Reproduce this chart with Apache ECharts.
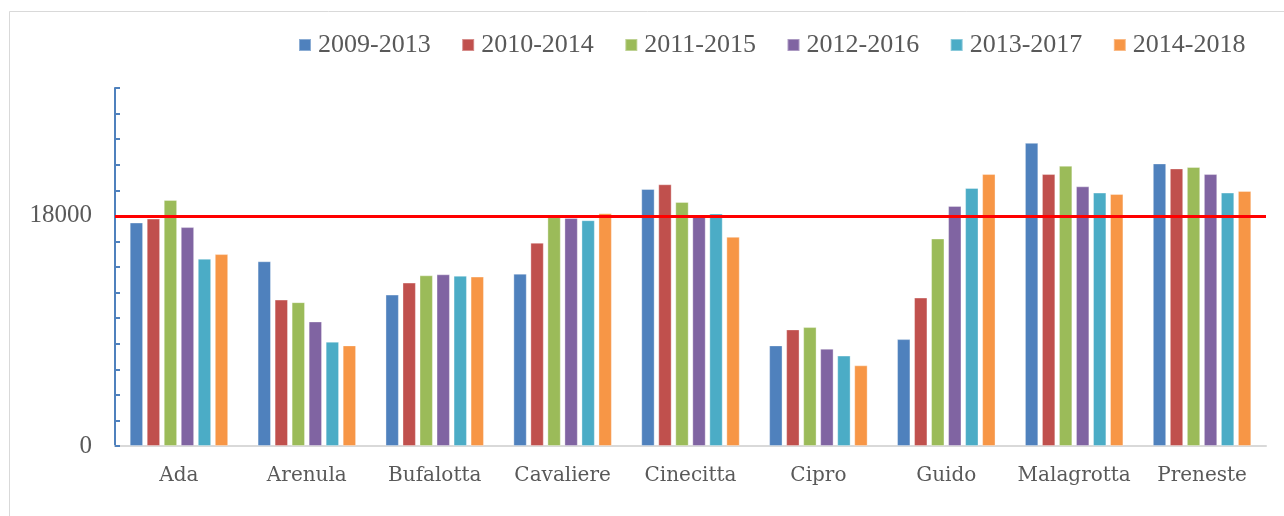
<!DOCTYPE html>
<html>
<head>
<meta charset="utf-8">
<script src="https://cdn.jsdelivr.net/npm/echarts@6/dist/echarts.min.js"></script>
<style>
html,body{margin:0;padding:0;background:#fff;}
#chart{width:1284px;height:516px;}
</style>
</head>
<body>
<div id="chart"></div>
<script>
var categories = ['Ada','Arenula','Bufalotta','Cavaliere','Cinecitta','Cipro','Guido','Malagrotta','Preneste'];
var seriesNames = ['2009-2013','2010-2014','2011-2015','2012-2016','2013-2017','2014-2018'];
var s2009_2013 = [17480, 14450, 11840, 13480, 20100, 7870, 8360, 23710, 22100];
var s2010_2014 = [17790, 11450, 12780, 15900, 20470, 9120, 11610, 21270, 21710];
var s2011_2015 = [19250, 11250, 13350, 17900, 19090, 9300, 16230, 21920, 21820];
var s2012_2016 = [17120, 9740, 13430, 17840, 18100, 7610, 18780, 20310, 21270];
var s2013_2017 = [14650, 8160, 13320, 17660, 18180, 7070, 20180, 19820, 19820];
var s2014_2018 = [15010, 7870, 13250, 18210, 16360, 6310, 21270, 19710, 19950];
var threshold = 18000;
var yTickLabels = [0, 18000];
var colors = ['#4F81BD','#C0504D','#9BBB59','#8064A2','#4BACC6','#F79646'];
var allData = [s2009_2013, s2010_2014, s2011_2015, s2012_2016, s2013_2017, s2014_2018];

var LETTER_FONT = 'DejaVu Serif';
var DIGIT_FONT = 'Liberation Serif';
var series = seriesNames.map(function(name, i){
  var s = {
    name: name,
    type: 'bar',
    data: allData[i],
    barWidth: 13.4,
    barGap: '27%',
    itemStyle: {color: colors[i], borderColor: 'rgba(255,255,255,0.35)', borderWidth: 1},
    emphasis: {disabled: true}
  };
  if (i === 0) {
    s.markLine = {
      silent: true,
      symbol: ['none','none'],
      label: {show: false},
      lineStyle: {color: '#FF0000', width: 3, type: 'solid'},
      data: [{yAxis: threshold}]
    };
  }
  return s;
});

var chart = echarts.init(document.getElementById('chart'), null, {renderer: 'canvas'});
chart.setOption({
  animation: false,
  backgroundColor: '#ffffff',
  color: colors,
  graphic: [{
    type: 'rect',
    shape: {x: 9.5, y: 11.5, width: 1300, height: 600},
    style: {fill: 'none', stroke: '#d9d9d9', lineWidth: 1},
    silent: true,
    z: -10
  }],
  legend: {
    left: 293,
    top: 27,
    itemWidth: 12,
    itemHeight: 12,
    itemGap: 30.5,
    icon: 'rect',
    textStyle: {fontFamily: DIGIT_FONT, fontSize: 26, color: '#595959', padding: [0,0,0,2]},
    data: seriesNames
  },
  grid: {left: 115, right: 18, top: 88, bottom: 70, containLabel: false},
  xAxis: {
    type: 'category',
    data: categories,
    axisLine: {lineStyle: {color: '#d9d9d9', width: 2}},
    axisTick: {show: false},
    axisLabel: {interval: 0, fontFamily: LETTER_FONT, fontSize: 20, color: '#595959', margin: 20}
  },
  yAxis: {
    type: 'value',
    min: 0,
    max: 28000,
    interval: 2000,
    splitLine: {show: false},
    axisLine: {show: true, lineStyle: {color: '#4F81BD', width: 2}},
    axisTick: {show: true, inside: true, length: 5, lineStyle: {color: '#4F81BD', width: 2}},
    axisLabel: {
      fontFamily: DIGIT_FONT, fontSize: 25, color: '#595959', margin: 23,
      formatter: function(v){ return yTickLabels.indexOf(v) >= 0 ? String(v) : ''; }
    }
  },
  series: series
});
</script>
</body>
</html>
